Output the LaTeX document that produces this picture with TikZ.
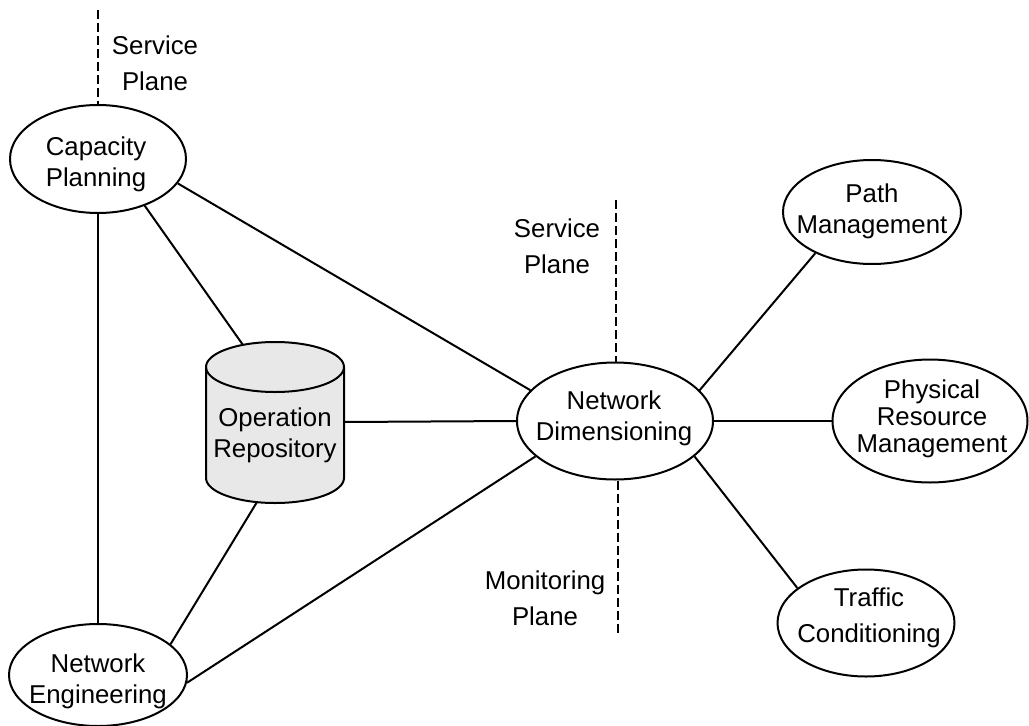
\documentclass[tikz,border=0pt]{standalone}
\usepackage{fontspec}
\setmainfont{Liberation Sans}
\usetikzlibrary{shapes.geometric}
\definecolor{cylfill}{RGB}{232,232,232}
\begin{document}
\begin{tikzpicture}[x=1pt,y=1pt,
  oval/.style={ellipse, draw=black, line width=2pt, inner sep=0pt, fill=white},
  lbl/.style={align=center, inner sep=0pt, font=\fontsize{25.8pt}{31pt}\selectfont},
  lbltight/.style={align=center, inner sep=0pt, font=\fontsize{25.8pt}{27pt}\selectfont},
  lblwide/.style={align=center, inner sep=0pt, font=\fontsize{25.8pt}{36pt}\selectfont},
  conn/.style={line width=2pt},
  planeline/.style={line width=2pt, dash pattern=on 9pt off 4pt},
  cyl/.style={line width=2pt, draw=black, fill=cylfill}]
\useasboundingbox (0,0) rectangle (1029,-726);

% ellipses
\node[oval, minimum width=176pt, minimum height=108pt] (cp) at (98,-159) {};
\node[oval, minimum width=178pt, minimum height=102pt] (ne) at (98,-675) {};
\node[oval, minimum width=196pt, minimum height=117pt] (nd) at (615,-421) {};
\node[oval, minimum width=178pt, minimum height=104pt] (pm) at (872,-212) {};
\node[oval, minimum width=195pt, minimum height=123pt] (prm) at (930,-421) {};
\node[oval, minimum width=177pt, minimum height=107pt] (tc) at (866,-623) {};

% cylinder
\path[cyl] (206,-367) -- (206,-478) arc (180:360:69 and 25) -- (344,-367) arc (0:180:69 and 25) -- cycle;
\draw[line width=2pt] (206,-367) arc (180:360:69 and 25);
\node[minimum width=138pt, minimum height=161pt, inner sep=0pt, outer sep=0pt] (repo) at (275,-422) {};
\coordinate (rtop) at (243,-345);
\coordinate (rbot) at (257,-502);

% texts
\node[lbl] (cpt) at (96,-164) {Capacity\\Planning};
\node[lbl] (net) at (98,-681) {Network\\Engineering};
\node[lbl] (ndt) at (614,-418) {Network\\Dimensioning};
\node[lbl] (pmt) at (872,-211) {Path\\Management};
\node[lbltight] (prmt) at (932,-419) {Physical\\Resource\\Management};
\node[lblwide] (tct) at (869,-618) {Traffic\\Conditioning};
\node[lbl] (repot) at (275,-435) {Operation\\Repository};
\node[lblwide] (sp1t) at (155,-63) {Service\\Plane};
\node[lblwide] (sp2t) at (557,-246) {Service\\Plane};
\node[lblwide] (mpt) at (545,-598) {Monitoring\\Plane};

% connectors
\draw[conn] (cp.south) -- (ne.north);
\draw[conn] (cp.-45) -- (rtop);
\draw[conn] (cp.-17) -- (nd.160);
\draw[conn] (repo.east) -- (nd.west);
\draw[conn] (rbot) -- (ne.23);
\draw[conn] (ne.-5) -- (nd.204);
\draw[conn] (nd.20) -- (pm.216);
\draw[conn] (nd.east) -- (prm.west);
\draw[conn] (nd.-24) -- (tc.153);

% plane separators
\coordinate (sp1) at (98,-10);
\draw[planeline] (sp1) -- (cp.north);
\coordinate (sp2) at (616,-200);
\draw[planeline] (sp2) -- (sp2 |- nd.north);
\coordinate (mp) at (618,-633);
\draw[planeline] (mp |- nd.south) -- (mp);
\end{tikzpicture}
\end{document}
